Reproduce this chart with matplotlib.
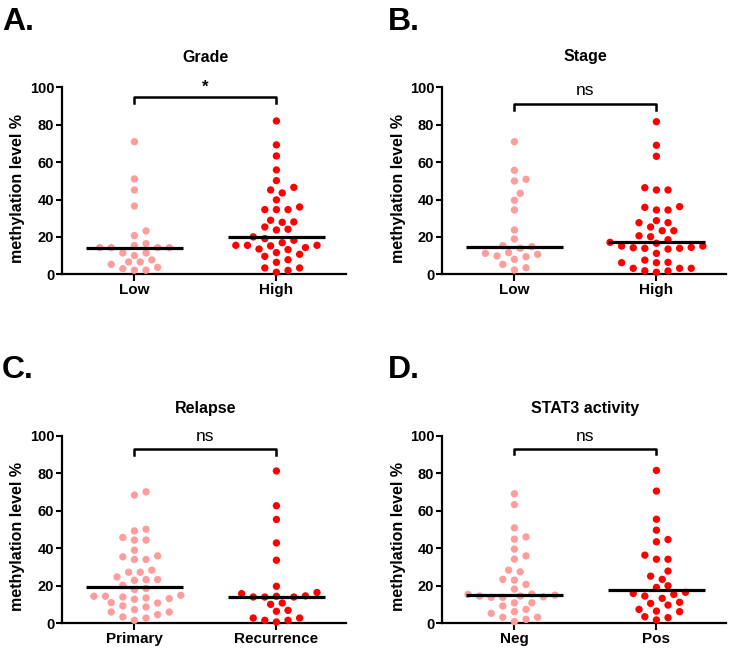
import numpy as np
import matplotlib
matplotlib.use("Agg")
import matplotlib.pyplot as plt

plt.rcParams['font.family'] = ['Liberation Sans', 'DejaVu Sans']

# ---------------- data ----------------
titles = ["Grade", "Stage", "Relapse", "STAT3 activity"]
letters = ["A.", "B.", "C.", "D."]
group_labels = [["Low", "High"], ["Low", "High"], ["Primary", "Recurrence"], ["Neg", "Pos"]]
sig_labels = ["*", "ns", "ns", "ns"]

grade_low = [70.9, 51.0, 45.1, 36.5, 23.2, 20.7, 16.4, 15.4, 14.3, 14.3, 14.3, 14.3,
             11.4, 11.4, 10.0, 7.7, 6.6, 6.6, 5.3, 3.7, 3.0, 2.2, 2.2]
grade_high = [82.0, 69.2, 63.3, 55.8, 50.1, 46.5, 45.1, 43.5, 39.8, 36.0, 34.6, 34.6, 34.6,
              28.9, 28.0, 27.8, 25.3, 24.1, 23.7, 20.0, 19.1, 18.2, 16.9, 15.5, 15.5, 15.5,
              15.2, 14.3, 13.5, 13.2, 11.6, 10.7, 9.6, 7.8, 6.4, 3.4, 3.4, 2.1, 1.1]
stage_low = [70.9, 55.6, 50.8, 49.9, 43.3, 39.6, 34.4, 23.7, 18.9, 15.3, 14.8, 13.9,
             11.6, 11.2, 10.7, 9.8, 9.4, 8.0, 5.3, 3.5, 2.3]
stage_high = [81.6, 69.0, 63.1, 46.3, 45.1, 45.1, 36.2, 35.8, 34.4, 34.4, 28.7, 27.6, 27.6,
              25.3, 23.3, 23.3, 20.6, 20.1, 18.5, 17.1, 16.6, 15.1, 15.1, 14.4, 14.2, 13.9,
              13.9, 13.5, 11.2, 7.6, 6.4, 6.2, 6.2, 3.2, 3.2, 3.2, 1.9, 1.8, 1.1]
relapse_primary = [70.0, 68.3, 50.1, 49.2, 45.7, 44.3, 44.3, 38.9, 35.9, 35.4, 34.0, 34.0,
                   28.3, 27.2, 27.2, 24.7, 23.3, 23.3, 22.9, 20.3, 18.5, 18.0, 14.9, 14.4,
                   14.4, 14.0, 13.5, 13.2, 12.8, 11.0, 10.8, 9.3, 8.7, 7.3, 6.0, 6.0, 4.6,
                   3.4, 2.8, 1.6]
relapse_recurrence = [81.1, 62.6, 55.3, 42.8, 33.6, 19.7, 16.4, 15.8, 14.6, 14.4, 14.0,
                      14.0, 14.0, 10.8, 10.1, 6.9, 6.4, 2.8, 2.8, 1.6, 1.6, 0.7]
stat3_neg = [69.0, 63.2, 50.8, 46.0, 44.8, 39.5, 35.9, 34.2, 28.3, 27.4, 23.4, 23.0, 20.7,
             18.2, 15.6, 15.4, 15.0, 14.5, 14.5, 14.1, 13.8, 13.8, 10.9, 10.9, 9.2, 7.4,
             6.2, 5.3, 3.2, 3.2, 2.1, 0.9]
stat3_pos = [81.4, 70.4, 55.4, 49.6, 44.6, 43.4, 36.3, 34.1, 34.1, 27.8, 25.1, 23.4, 20.0,
             19.1, 16.5, 15.9, 15.4, 14.5, 13.3, 11.2, 10.6, 9.7, 7.4, 6.5, 6.2, 3.5, 3.0, 1.8]

panels = [(grade_low, grade_high), (stage_low, stage_high),
          (relapse_primary, relapse_recurrence), (stat3_neg, stat3_pos)]

# bracket (bar height, leg bottom, text y) per panel
brackets = [(94.7, 91.5, 96.0), (91.0, 88.0, 94.5), (92.6, 89.6, 95.5), (92.9, 89.9, 95.5)]

col_light = "#FF9C9C"
col_dark = "#FF0000"

W, H = 731, 648
fig = plt.figure(figsize=(W / 100, H / 100), dpi=100)

rects = [
    [62 / W, 1 - 274.3 / H, 284 / W, (274.3 - 87.3) / H],
    [442 / W, 1 - 274.3 / H, 284 / W, (274.3 - 87.3) / H],
    [62 / W, 1 - 623.3 / H, 284 / W, (623.3 - 435.5) / H],
    [442 / W, 1 - 623.3 / H, 284 / W, (623.3 - 435.5) / H],
]
XMIN, XMAX = -0.51, 1.49


def swarm_offsets(ax, vals, center):
    """Greedy beeswarm in display pixels, returns x positions in data units."""
    vals = np.asarray(vals, float)
    tr = ax.transData
    p0 = tr.transform((center, 0))
    px_per_x = tr.transform((center + 1, 0))[0] - p0[0]
    ys_px = np.array([tr.transform((center, v))[1] for v in vals])
    step = 5.8
    diam = 8.5
    cands = [0.0]
    for k in range(1, 30):
        cands += [k * step, -k * step]
    order = np.argsort(vals)
    placed = []
    xs = np.zeros(len(vals))
    for i in order:
        y = ys_px[i]
        for c in cands:
            ok = True
            for (px, py) in placed:
                if (px - c) ** 2 + (py - y) ** 2 < diam ** 2:
                    ok = False
                    break
            if ok:
                xs[i] = c
                placed.append((c, y))
                break
    return center + xs / px_per_x


for idx, (rect, (g1, g2)) in enumerate(zip(rects, panels)):
    ax = fig.add_axes(rect)
    ax.set_xlim(XMIN, XMAX)
    ax.set_ylim(0, 100)
    for sp in ["top", "right"]:
        ax.spines[sp].set_visible(False)
    for sp in ["left", "bottom"]:
        ax.spines[sp].set_linewidth(1.6)
    ax.set_yticks([0, 20, 40, 60, 80, 100])
    ax.set_xticks([0, 1])
    ax.set_xticklabels(group_labels[idx], fontsize=11, fontweight="bold")
    ax.tick_params(axis="y", length=4, width=1.5, pad=1.5, labelsize=10.5)
    ax.tick_params(axis="x", length=5, width=1.5, pad=1.5)
    for lab in ax.get_yticklabels():
        lab.set_fontweight("bold")

    for j, (g, col) in enumerate([(g1, col_light), (g2, col_dark)]):
        xs = swarm_offsets(ax, g, j)
        ax.scatter(xs, g, s=28, color=col, edgecolors="none", zorder=3, clip_on=False)
        med = np.median(g)
        ax.plot([j - 0.34, j + 0.34], [med, med], color="black", lw=2.3, zorder=4,
                solid_capstyle="butt")

    top, bot, ty = brackets[idx]
    ax.plot([0, 0, 1, 1], [bot, top, top, bot], color="black", lw=1.8, clip_on=False,
            zorder=5)
    if sig_labels[idx] == "*":
        ax.text(0.5, ty, "*", ha="center", va="bottom", fontsize=12, fontweight="bold")
    else:
        ax.text(0.5, ty, sig_labels[idx], ha="center", va="bottom", fontsize=12.5)

    l, b, w, h = rect
    title_y = 57 if idx < 2 else 409
    cx = l + w * ((0.5 - XMIN) / (XMAX - XMIN))
    fig.text(cx, 1 - title_y / H, titles[idx], ha="center", va="center",
             fontsize=11.5, fontweight="bold")
    ylab_x = 18 / W if idx % 2 == 0 else 398 / W
    fig.text(ylab_x, b + h * 0.46, "methylation level %", rotation=90, ha="center",
             va="center", fontsize=11.5, fontweight="bold")
    letter_x = 2 / W if idx % 2 == 0 else 388 / W
    letter_y = 30 if idx < 2 else 378
    fig.text(letter_x, 1 - letter_y / H, letters[idx], ha="left", va="baseline",
             fontsize=23, fontweight="bold")

fig.savefig("out.png", dpi=100)
